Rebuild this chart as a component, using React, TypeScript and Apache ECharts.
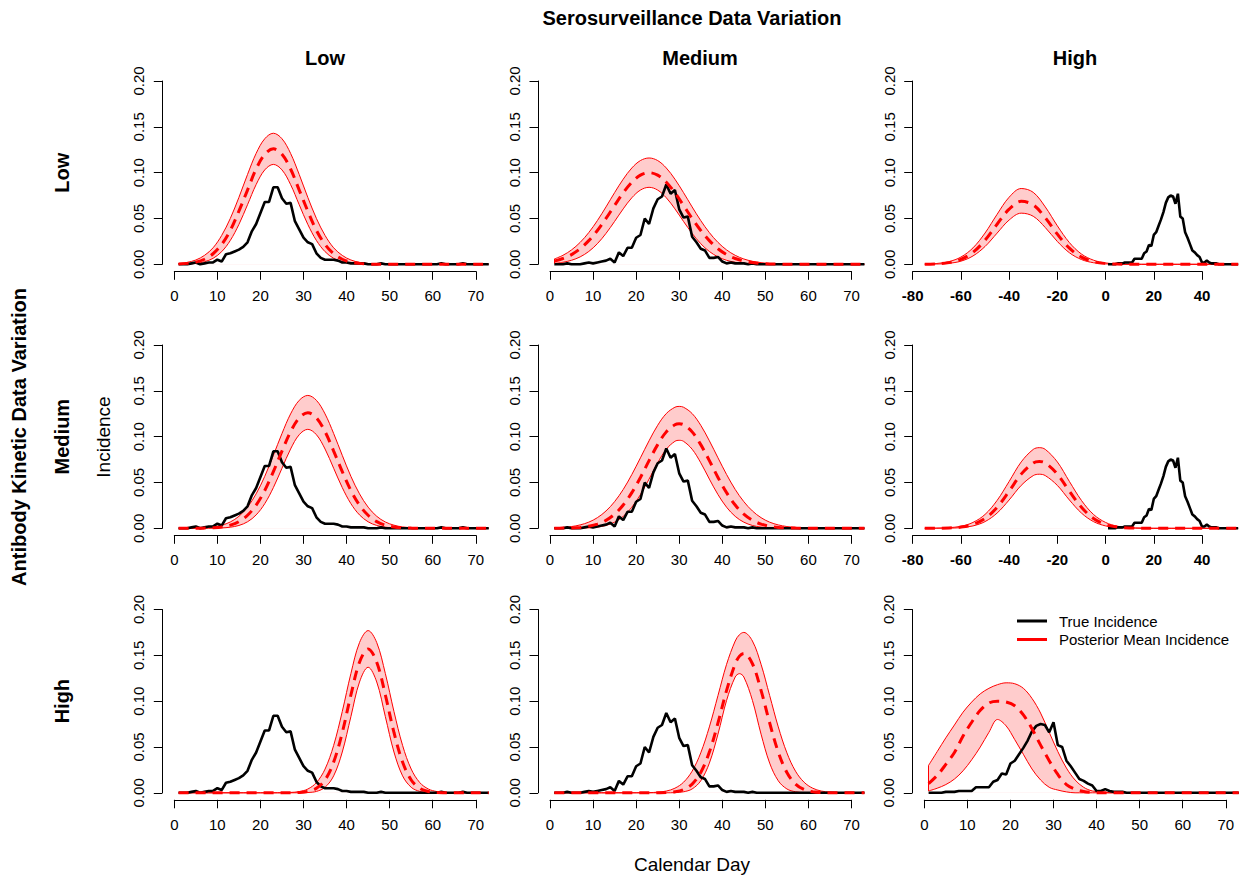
import { useEffect, useRef } from 'react';
import * as echarts from 'echarts';

const FONT = '"Liberation Sans", Arial, Helvetica, sans-serif';

// ---------- x domains ----------
const DAYS: number[] = Array.from({ length: 73 }, (_, i) => i + 1);
const POST_DAYS = [1, 3, 5, 7, 9, 11, 13, 15, 17, 19, 21, 23, 25, 27, 29, 31, 33, 35, 37, 39, 41, 43, 45, 47, 49, 51, 53, 55, 57, 59, 61, 63, 65, 67, 69, 71, 73];
const POST_DAYS_22 = [1, 3, 5, 7, 9, 11, 13, 15, 17, 19, 21, 23, 25, 27, 29, 30, 31, 33, 35, 37, 39, 41, 43, 45, 47, 49, 51, 53, 55, 57, 59, 61, 63, 65, 67, 69, 71, 73];
const POST_DAYS_32 = [1, 3, 5, 7, 9, 11, 13, 15, 17, 19, 21, 23, 25, 27, 29, 31, 33, 35, 37, 39, 41, 43, 44, 45, 47, 49, 51, 53, 55, 57, 59, 61, 63, 65, 67, 69, 71, 73];
const SHIFT_DAYS = [-75, -70, -65, -60, -55, -50, -45, -40, -35, -30, -25, -20, -15, -10, -5, 0, 5, 10, 15, 20, 25, 30, 35, 40, 45, 50, 55];
const SHIFT_DAYS_23 = [-75, -70, -65, -60, -55, -50, -45, -40, -35, -30, -27.5, -25, -20, -15, -10, -5, 0, 5, 10, 15, 20, 25, 30, 35, 40, 45, 50, 55];

// ---------- labels ----------
const ROW_LABELS = ['Low', 'Medium', 'High'];
const COL_LABELS = ['Low', 'Medium', 'High'];
const LEGEND_LABELS = ['True Incidence', 'Posterior Mean Incidence'];

// ---------- true incidence (one per serosurveillance column) ----------
const TRUE_LOW = [
  0, 0, 0, 0.001, 0.002, 0, 0.001, 0.002, 0.002, 0.005,
  0.003, 0.011, 0.012, 0.014, 0.016, 0.019, 0.024, 0.036, 0.044, 0.056,
  0.068, 0.068, 0.084, 0.084, 0.072, 0.066, 0.067, 0.047, 0.038, 0.029,
  0.024, 0.022, 0.012, 0.007, 0.005, 0.005, 0.005, 0.004, 0.002, 0.002,
  0.001, 0.001, 0.001, 0.001, 0, 0, 0, 0.001, 0, 0,
  0, 0, 0, 0, 0, 0, 0, 0, 0, 0,
  0, 0.001, 0, 0, 0, 0, 0.001, 0, 0, 0,
  0, 0, 0,
];
const TRUE_MED = [
  0, 0, 0, 0.001, 0, 0, 0, 0.001, 0.002, 0.001,
  0.002, 0.003, 0.004, 0.006, 0.002, 0.013, 0.009, 0.018, 0.018, 0.029,
  0.032, 0.05, 0.044, 0.061, 0.071, 0.074, 0.087, 0.077, 0.081, 0.06,
  0.051, 0.052, 0.03, 0.024, 0.017, 0.015, 0.007, 0.007, 0.008, 0.003,
  0.001, 0.002, 0.001, 0.001, 0.001, 0, 0.001, 0, 0, 0,
  0, 0, 0, 0, 0, 0, 0, 0, 0, 0,
  0, 0, 0, 0, 0, 0, 0, 0, 0, 0,
  0, 0, 0,
];
const TRUE_HIGH = [
  0, 0, 0, 0, 0.001, 0.001, 0.001, 0.002, 0.002, 0.002,
  0.002, 0.006, 0.006, 0.006, 0.006, 0.012, 0.014, 0.021, 0.02, 0.032,
  0.035, 0.042, 0.049, 0.057, 0.067, 0.073, 0.075, 0.074, 0.066, 0.077,
  0.052, 0.05, 0.035, 0.029, 0.022, 0.015, 0.013, 0.01, 0.008, 0.002,
  0.002, 0.004, 0.002, 0.001, 0.001, 0.001, 0, 0, 0, 0,
  0, 0, 0, 0, 0, 0, 0, 0, 0, 0,
  0, 0, 0, 0, 0, 0, 0, 0, 0, 0,
  0, 0, 0,
];

// ---------- posterior curves (upper / mean / lower) ----------
// Row 1 (antibody low)
const U11 = [0.0009, 0.0021, 0.0047, 0.0097, 0.018, 0.0315, 0.05, 0.073, 0.098, 0.121, 0.137, 0.143, 0.137, 0.121, 0.098, 0.073, 0.05, 0.0315, 0.018, 0.0097, 0.0047, 0.0021, 0.0009, 0.0003, 0, 0, 0, 0, 0, 0, 0, 0, 0, 0, 0, 0, 0];
const M11 = [0.0003, 0.001, 0.0024, 0.0055, 0.0115, 0.0217, 0.037, 0.058, 0.081, 0.104, 0.12, 0.126, 0.12, 0.104, 0.081, 0.058, 0.037, 0.0217, 0.0115, 0.0055, 0.0024, 0.001, 0.0003, 0, 0, 0, 0, 0, 0, 0, 0, 0, 0, 0, 0, 0, 0];
const L11 = [0, 0.0003, 0.001, 0.0028, 0.0065, 0.0138, 0.026, 0.0435, 0.065, 0.087, 0.103, 0.109, 0.103, 0.087, 0.065, 0.0435, 0.026, 0.0138, 0.0065, 0.0028, 0.001, 0.0003, 0, 0, 0, 0, 0, 0, 0, 0, 0, 0, 0, 0, 0, 0, 0];

const U12 = [0.0058, 0.0098, 0.0157, 0.0239, 0.0346, 0.0477, 0.0626, 0.0782, 0.0929, 0.1051, 0.1132, 0.116, 0.1132, 0.1051, 0.0929, 0.0782, 0.0626, 0.0477, 0.0346, 0.0239, 0.0157, 0.0098, 0.0058, 0.0033, 0.0018, 0.0009, 0.0005, 0.0002, 0.0001, 0, 0, 0, 0, 0, 0, 0, 0];
const M12 = [0.0035, 0.0063, 0.0106, 0.017, 0.0258, 0.0369, 0.05, 0.0642, 0.078, 0.0895, 0.0973, 0.1, 0.0973, 0.0895, 0.078, 0.0642, 0.05, 0.0369, 0.0258, 0.017, 0.0106, 0.0063, 0.0035, 0.0019, 0.0009, 0.0004, 0.0002, 0, 0, 0, 0, 0, 0, 0, 0, 0, 0];
const L12 = [0.001, 0.0022, 0.0044, 0.0081, 0.014, 0.0225, 0.0337, 0.0468, 0.0605, 0.0726, 0.081, 0.084, 0.081, 0.0726, 0.0605, 0.0468, 0.0337, 0.0225, 0.014, 0.0081, 0.0044, 0.0022, 0.001, 0.0004, 0.0002, 0, 0, 0, 0, 0, 0, 0, 0, 0, 0, 0, 0];

const U13 = [0.0002, 0.0009, 0.0029, 0.0079, 0.0179, 0.0341, 0.0545, 0.0732, 0.0827, 0.0785, 0.0626, 0.042, 0.0237, 0.0112, 0.0045, 0.0015, 0.0004, 0.0001, 0, 0, 0, 0, 0, 0, 0, 0, 0];
const M13 = [0.0001, 0.0005, 0.0018, 0.0054, 0.013, 0.0262, 0.0437, 0.0602, 0.0687, 0.0649, 0.0508, 0.0329, 0.0176, 0.0078, 0.0029, 0.0009, 0.0002, 0, 0, 0, 0, 0, 0, 0, 0, 0, 0];
const L13 = [0.0001, 0.0003, 0.0011, 0.0034, 0.0091, 0.0194, 0.034, 0.0483, 0.0558, 0.0524, 0.0401, 0.0249, 0.0126, 0.0052, 0.0017, 0.0005, 0.0001, 0, 0, 0, 0, 0, 0, 0, 0, 0, 0];

// Row 2 (antibody medium)
const U21 = [0, 0.0001, 0.0003, 0.0007, 0.0015, 0.0034, 0.0069, 0.0131, 0.0231, 0.0376, 0.0567, 0.0796, 0.1034, 0.1248, 0.1396, 0.145, 0.1396, 0.1248, 0.1034, 0.0796, 0.0567, 0.0376, 0.0231, 0.0131, 0.0069, 0.0034, 0.0015, 0.0007, 0.0003, 0.0001, 0, 0, 0, 0, 0, 0, 0];
const M21 = [0, 0, 0, 0.0002, 0.0006, 0.0015, 0.0034, 0.0073, 0.0142, 0.0253, 0.0413, 0.0618, 0.0843, 0.1054, 0.1205, 0.126, 0.1205, 0.1054, 0.0843, 0.0618, 0.0413, 0.0253, 0.0142, 0.0073, 0.0034, 0.0015, 0.0006, 0.0002, 0, 0, 0, 0, 0, 0, 0, 0, 0];
const L21 = [0, 0, 0, 0, 0.0001, 0.0004, 0.0012, 0.0031, 0.0071, 0.0146, 0.0269, 0.0444, 0.0655, 0.0865, 0.1021, 0.108, 0.1021, 0.0865, 0.0655, 0.0444, 0.0269, 0.0146, 0.0071, 0.0031, 0.0012, 0.0004, 0.0001, 0, 0, 0, 0, 0, 0, 0, 0, 0, 0];

const U22 = [0.0005, 0.001, 0.0019, 0.0037, 0.0067, 0.0116, 0.0189, 0.0291, 0.0424, 0.0587, 0.0769, 0.0955, 0.1124, 0.1252, 0.1321, 0.133, 0.1321, 0.1252, 0.1124, 0.0955, 0.0769, 0.0587, 0.0424, 0.0291, 0.0189, 0.0116, 0.0067, 0.0037, 0.0019, 0.001, 0.0005, 0.0002, 0.0001, 0, 0, 0, 0, 0];
const M22 = [0.0001, 0.0002, 0.0004, 0.001, 0.0023, 0.0046, 0.0087, 0.0154, 0.0254, 0.0389, 0.0555, 0.0738, 0.0913, 0.1052, 0.113, 0.114, 0.113, 0.1052, 0.0913, 0.0738, 0.0555, 0.0389, 0.0254, 0.0154, 0.0087, 0.0046, 0.0023, 0.001, 0.0004, 0.0002, 0.0001, 0, 0, 0, 0, 0, 0, 0];
const L22 = [0, 0, 0, 0.0002, 0.0005, 0.0013, 0.0031, 0.0067, 0.013, 0.023, 0.0368, 0.0537, 0.0715, 0.0863, 0.0949, 0.096, 0.0949, 0.0863, 0.0715, 0.0537, 0.0368, 0.023, 0.013, 0.0067, 0.0031, 0.0013, 0.0005, 0.0002, 0, 0, 0, 0, 0, 0, 0, 0, 0, 0];

const U23 = [0, 0.0002, 0.0007, 0.0022, 0.0064, 0.0151, 0.0304, 0.0511, 0.0724, 0.0861, 0.088, 0.0861, 0.0724, 0.0511, 0.0304, 0.0151, 0.0064, 0.0022, 0.0007, 0.0002, 0, 0, 0, 0, 0, 0, 0, 0];
const M23 = [0, 0.0001, 0.0004, 0.0013, 0.0042, 0.0107, 0.0229, 0.0405, 0.0591, 0.0713, 0.073, 0.0713, 0.0591, 0.0405, 0.0229, 0.0107, 0.0042, 0.0013, 0.0004, 0.0001, 0, 0, 0, 0, 0, 0, 0, 0];
const L23 = [0, 0.0001, 0.0002, 0.0007, 0.0026, 0.0073, 0.0166, 0.0309, 0.0468, 0.0575, 0.059, 0.0575, 0.0468, 0.0309, 0.0166, 0.0073, 0.0026, 0.0007, 0.0002, 0.0001, 0, 0, 0, 0, 0, 0, 0, 0];

// Row 3 (antibody high)
const U31 = [0, 0, 0, 0, 0, 0, 0, 0, 0, 0, 0, 0, 0.0001, 0.0004, 0.0013, 0.0041, 0.0111, 0.0259, 0.0517, 0.0887, 0.1301, 0.1639, 0.177, 0.1639, 0.1301, 0.0887, 0.0517, 0.0259, 0.0111, 0.0041, 0.0013, 0.0004, 0.0001, 0, 0, 0, 0];
const M31 = [0, 0, 0, 0, 0, 0, 0, 0, 0, 0, 0, 0, 0, 0.0001, 0.0003, 0.0014, 0.0049, 0.014, 0.0335, 0.0658, 0.1067, 0.1425, 0.157, 0.1425, 0.1067, 0.0658, 0.0335, 0.014, 0.0049, 0.0014, 0.0003, 0.0001, 0, 0, 0, 0, 0];
const L31 = [0, 0, 0, 0, 0, 0, 0, 0, 0, 0, 0, 0, 0, 0, 0, 0.0003, 0.0015, 0.006, 0.0185, 0.0445, 0.0831, 0.1209, 0.137, 0.1209, 0.0831, 0.0445, 0.0185, 0.006, 0.0015, 0.0003, 0, 0, 0, 0, 0, 0, 0];

const U32 = [0, 0, 0, 0, 0, 0, 0, 0, 0, 0, 0.0001, 0.0002, 0.0007, 0.0019, 0.005, 0.0115, 0.0236, 0.0436, 0.0719, 0.1061, 0.1402, 0.1656, 0.1726, 0.175, 0.1656, 0.1402, 0.1061, 0.0719, 0.0436, 0.0236, 0.0115, 0.005, 0.0019, 0.0007, 0.0002, 0.0001, 0, 0];
const M32 = [0, 0, 0, 0, 0, 0, 0, 0, 0, 0, 0, 0, 0.0001, 0.0003, 0.0011, 0.0035, 0.0095, 0.0222, 0.0444, 0.0762, 0.1117, 0.1408, 0.1491, 0.152, 0.1408, 0.1117, 0.0762, 0.0444, 0.0222, 0.0095, 0.0035, 0.0011, 0.0003, 0.0001, 0, 0, 0, 0];
const L32 = [0, 0, 0, 0, 0, 0, 0, 0, 0, 0, 0, 0, 0, 0, 0.0002, 0.0011, 0.0042, 0.0131, 0.0324, 0.064, 0.1008, 0.1264, 0.13, 0.1264, 0.1008, 0.064, 0.0324, 0.0131, 0.0042, 0.0011, 0.0002, 0, 0, 0, 0, 0, 0, 0];

const U33 = [0.03, 0.045, 0.06, 0.074, 0.088, 0.099, 0.108, 0.114, 0.118, 0.12, 0.119, 0.114, 0.103, 0.087, 0.066, 0.045, 0.027, 0.014, 0.006, 0.002, 0.001, 0, 0, 0, 0, 0, 0, 0, 0, 0, 0, 0, 0, 0, 0, 0, 0];
const M33 = [0.01, 0.019, 0.031, 0.044, 0.062, 0.077, 0.09, 0.098, 0.1, 0.099, 0.095, 0.085, 0.07, 0.052, 0.035, 0.02, 0.009, 0.004, 0.0015, 0.0005, 0, 0, 0, 0, 0, 0, 0, 0, 0, 0, 0, 0, 0, 0, 0, 0, 0];
const L33 = [0.002, 0.005, 0.009, 0.015, 0.024, 0.036, 0.05, 0.066, 0.08, 0.073, 0.058, 0.042, 0.026, 0.014, 0.006, 0.003, 0.001, 0, 0, 0, 0, 0, 0, 0, 0, 0, 0, 0, 0, 0, 0, 0, 0, 0, 0, 0, 0];

type Panel = {
  truth: number[];
  truthLen: number;
  postX: number[];
  upper: number[];
  mean: number[];
  lower: number[];
  shifted: boolean;
};

const PANELS: Panel[][] = [
  [
    { truth: TRUE_LOW, truthLen: 73, postX: POST_DAYS, upper: U11, mean: M11, lower: L11, shifted: false },
    { truth: TRUE_MED, truthLen: 73, postX: POST_DAYS, upper: U12, mean: M12, lower: L12, shifted: false },
    { truth: TRUE_HIGH, truthLen: 55, postX: SHIFT_DAYS, upper: U13, mean: M13, lower: L13, shifted: true },
  ],
  [
    { truth: TRUE_LOW, truthLen: 73, postX: POST_DAYS, upper: U21, mean: M21, lower: L21, shifted: false },
    { truth: TRUE_MED, truthLen: 73, postX: POST_DAYS_22, upper: U22, mean: M22, lower: L22, shifted: false },
    { truth: TRUE_HIGH, truthLen: 55, postX: SHIFT_DAYS_23, upper: U23, mean: M23, lower: L23, shifted: true },
  ],
  [
    { truth: TRUE_LOW, truthLen: 73, postX: POST_DAYS, upper: U31, mean: M31, lower: L31, shifted: false },
    { truth: TRUE_MED, truthLen: 73, postX: POST_DAYS_32, upper: U32, mean: M32, lower: L32, shifted: false },
    { truth: TRUE_HIGH, truthLen: 73, postX: POST_DAYS, upper: U33, mean: M33, lower: L33, shifted: false },
  ],
];

// ---------- layout ----------
const ROW_TOP = [81, 345, 609.5];
const ROW_H = 183.3;
const COL_LEFT = [174.3, 550, 924.3];
const PLOT_W = 301.5; // pixel width of 0..70
const SHIFT_LEFT = 912.7;
const SHIFT_W = 289.3; // pixel width of -80..40
const COL_TITLE_X = [325, 700, 1075];

const RED = '#ff0000';
const SMOOTH = 0.35;

function text(t: string, x: number, y: number, size: number, bold: boolean, rotation = 0, align = 'center') {
  return {
    type: 'text',
    x,
    y,
    rotation,
    silent: true,
    style: {
      text: t,
      fill: '#000',
      fontSize: size,
      fontWeight: bold ? 'bold' : 'normal',
      fontFamily: FONT,
      textAlign: align,
      textVerticalAlign: 'middle',
      align,
      verticalAlign: 'middle',
    },
  };
}

function buildOption() {
  const grids: any[] = [];
  const xAxes: any[] = [];
  const yAxes: any[] = [];
  const series: any[] = [];
  const all: Panel[] = [];
  const pos: { r: number; c: number }[] = [];
  PANELS.forEach((row, r) => row.forEach((p, c) => { all.push(p); pos.push({ r, c }); }));
  const n = all.length;

  // display grids (axes with R-style tick ranges)
  all.forEach((p, i) => {
    const { r, c } = pos[i];
    const left = p.shifted ? SHIFT_LEFT : COL_LEFT[c];
    const width = p.shifted ? SHIFT_W : PLOT_W;
    grids.push({ left, top: ROW_TOP[r], width, height: ROW_H, containLabel: false, outerBoundsMode: 'none' });
    xAxes.push({
      type: 'value',
      gridIndex: i,
      min: p.shifted ? -80 : 0,
      max: p.shifted ? 40 : 70,
      interval: p.shifted ? 20 : 10,
      offset: 7,
      axisLine: { show: true, onZero: false, lineStyle: { color: '#000', width: 1 } },
      axisTick: { show: true, length: 8.5, lineStyle: { color: '#000', width: 1 } },
      axisLabel: {
        show: true,
        color: '#000',
        fontSize: 15,
        fontFamily: FONT,
        fontWeight: p.shifted ? 'bold' : 'normal',
        margin: 17,
        showMinLabel: true,
        showMaxLabel: true,
      },
      splitLine: { show: false },
    });
    yAxes.push({
      type: 'value',
      gridIndex: i,
      min: 0,
      max: 0.2,
      interval: 0.05,
      offset: p.shifted ? 0 : 12,
      axisLine: { show: true, onZero: false, lineStyle: { color: '#000', width: 1 } },
      axisTick: { show: true, length: 8.5, lineStyle: { color: '#000', width: 1 } },
      axisLabel: {
        show: true,
        color: '#000',
        fontSize: 15,
        fontFamily: FONT,
        rotate: 90,
        margin: 16,
        formatter: (v: number) => v.toFixed(2),
      },
      splitLine: { show: false },
    });
  });

  // data grids: same scale, extended range so that all data (to day 73 / 55) is drawn
  all.forEach((p, i) => {
    const { r, c } = pos[i];
    const left = p.shifted ? SHIFT_LEFT : COL_LEFT[c];
    const dMin = p.shifted ? -80 : 0;
    const dMax = p.shifted ? 56 : 73.5;
    const pxPerUnit = p.shifted ? SHIFT_W / 120 : PLOT_W / 70;
    const gi = n + i;
    grids.push({
      left,
      top: ROW_TOP[r],
      width: (dMax - dMin) * pxPerUnit,
      height: ROW_H,
      containLabel: false,
      outerBoundsMode: 'none',
    });
    xAxes.push({ type: 'value', gridIndex: gi, min: dMin, max: dMax, show: false, splitLine: { show: false } });
    yAxes.push({ type: 'value', gridIndex: gi, min: 0, max: 0.2, show: false, splitLine: { show: false } });

    const common = {
      type: 'line',
      xAxisIndex: gi,
      yAxisIndex: gi,
      symbol: 'none',
      clip: false,
      silent: true,
    };
    // upper bound: pink fill down to zero, red edge
    series.push({
      ...common,
      name: 'upper' + i,
      data: p.postX.map((x, k) => [x, p.upper[k]]),
      smooth: SMOOTH,
      z: 2,
      lineStyle: { color: RED, width: 1 },
      areaStyle: { color: 'rgba(255,0,0,0.2)', opacity: 1, origin: 'start' },
      markLine: {
        silent: true,
        symbol: 'none',
        label: { show: false },
        lineStyle: { color: RED, width: 1, type: 'solid' },
        data: [[{ coord: [p.postX[0], p.lower[0]] }, { coord: [p.postX[0], p.upper[0]] }]],
      },
    });
    // lower bound: white fill down to zero clears the area beneath the band
    series.push({
      ...common,
      name: 'lower' + i,
      data: p.postX.map((x, k) => [x, p.lower[k]]),
      smooth: SMOOTH,
      z: 3,
      lineStyle: { color: RED, width: 1 },
      areaStyle: { color: '#ffffff', opacity: 1, origin: 'start' },
    });
    series.push({
      ...common,
      name: LEGEND_LABELS[0],
      data: DAYS.slice(0, p.truthLen).map((d, k) => [d, p.truth[k]]),
      z: 4,
      lineStyle: { color: '#000', width: 2.6 },
    });
    series.push({
      ...common,
      name: LEGEND_LABELS[1],
      data: p.postX.map((x, k) => [x, p.mean[k]]),
      smooth: SMOOTH,
      z: 5,
      lineStyle: { color: RED, width: 3, type: [10, 7] },
    });
  });

  const graphics: any[] = [
    text('Serosurveillance Data Variation', 692, 18, 20, true),
    text('Antibody Kinetic Data Variation', 19, 437, 20, true, Math.PI / 2),
    text('Incidence', 103, 437, 19, false, Math.PI / 2),
    text('Calendar Day', 692, 864, 19, false),
  ];
  COL_LABELS.forEach((l, c) => graphics.push(text(l, COL_TITLE_X[c], 57.5, 20, true)));
  ROW_LABELS.forEach((l, r) => graphics.push(text(l, 62, ROW_TOP[r] + ROW_H / 2, 20, true, Math.PI / 2)));
  // legend (bottom-right panel)
  graphics.push({ type: 'line', silent: true, shape: { x1: 1017, y1: 621, x2: 1047, y2: 621 }, style: { stroke: '#000', lineWidth: 3 } });
  graphics.push({ type: 'line', silent: true, shape: { x1: 1017, y1: 639.5, x2: 1047, y2: 639.5 }, style: { stroke: RED, lineWidth: 3 } });
  graphics.push(text(LEGEND_LABELS[0], 1059, 621, 15, false, 0, 'left'));
  graphics.push(text(LEGEND_LABELS[1], 1059, 639.5, 15, false, 0, 'left'));

  return {
    animation: false,
    backgroundColor: '#ffffff',
    textStyle: { fontFamily: FONT },
    grid: grids,
    xAxis: xAxes,
    yAxis: yAxes,
    series,
    graphic: { elements: graphics },
  };
}

export default function App() {
  const ref = useRef<HTMLDivElement>(null);
  useEffect(() => {
    if (!ref.current) return;
    const chart = echarts.init(ref.current, undefined, { renderer: 'svg' });
    chart.setOption(buildOption() as any);
    return () => chart.dispose();
  }, []);
  return (
    <div
      ref={ref}
      style={{ position: 'absolute', left: 0, top: 0, width: 1243, height: 880, background: '#fff' }}
    />
  );
}
